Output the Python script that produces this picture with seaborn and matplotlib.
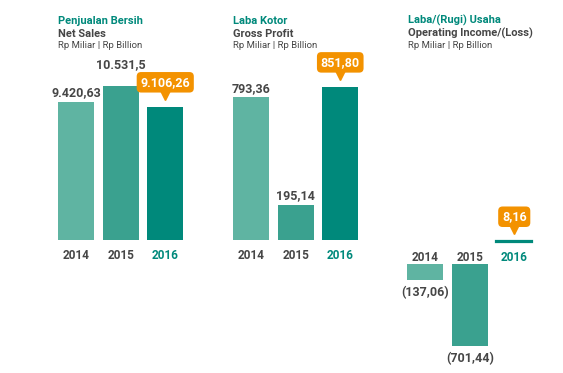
import matplotlib
matplotlib.use('Agg')
import matplotlib.pyplot as plt
import seaborn as sns
from matplotlib.transforms import offset_copy

# data
years = ['2014', '2015', '2016']
net_sales = [9420.63, 10531.5, 9106.26]
gross_profit = [793.36, 195.14, 851.80]
op_income = [-137.06, -701.44, 8.16]
net_sales_lbl = ['9.420,63', '10.531,5', '9.106,26']
gross_profit_lbl = ['793,36', '195,14', '851,80']
op_income_lbl = ['(137,06)', '(701,44)', '8,16']
titles_id = ['Penjualan Bersih', 'Laba Kotor', 'Laba/(Rugi) Usaha']
titles_en = ['Net Sales', 'Gross Profit', 'Operating Income/(Loss)']
unit = 'Rp Miliar | Rp Billion'

bar_colors = ['#5fb4a2', '#3aa18f', '#00897b']
teal = '#00897b'
dark = '#464646'
orange = '#f39200'

sns.set_theme(style='white')
plt.rcParams['font.family'] = ['Roboto', 'DejaVu Sans']

W, H = 563, 373
fig = plt.figure(figsize=(W / 100, H / 100), dpi=100)


def px_axes(left, top, width, height):
    return fig.add_axes([left / W, 1 - (top + height) / H, width / W, height / H])


def callout(ax, i, v, text):
    ax.annotate(text, xy=(i, v), xytext=(0, 17.5), textcoords='offset points',
                ha='center', va='center', fontsize=9, fontweight='bold', color='white',
                bbox=dict(boxstyle='round,pad=0.3,rounding_size=0.35', fc=orange, ec='none'))
    tr = offset_copy(ax.transData, fig=fig, x=0, y=8.5, units='points')
    ax.plot([i], [v], marker='v', ms=7, color=orange, transform=tr, clip_on=False)


def year_labels(ax):
    for i, y in enumerate(years):
        ax.annotate(y, xy=(i, 0), xytext=(0, -13.5), textcoords='offset points',
                    ha='center', va='baseline', fontsize=8.5, fontweight='bold',
                    color=teal if i == 2 else dark)


# label lift above bar top (points); middle one sits higher to clear the callout
lifts = [4, 13, 4]

panels = [
    (54, net_sales, net_sales_lbl, 12287),
    (229, gross_profit, gross_profit_lbl, 1000),
]
for k, (left, vals, lbls, ymax) in enumerate(panels):
    ax = px_axes(left, 60, 133.5, 180)
    sns.barplot(x=years, y=vals, hue=years, palette=bar_colors, legend=False,
                width=0.8, edgecolor=None, linewidth=0, saturation=1, ax=ax)
    ax.set_ylim(0, ymax)
    ax.set_xlim(-0.5, 2.5)
    ax.axis('off')
    for i, v in enumerate(vals):
        if i == 2:
            callout(ax, i, v, lbls[i])
        else:
            lift = lifts[i] if k == 0 else 4
            ax.annotate(lbls[i], xy=(i, v), xytext=(0, lift), textcoords='offset points',
                        ha='center', va='baseline', fontsize=9, fontweight='bold', color=dark)
    year_labels(ax)

# operating income panel: negative bars hang below the year labels
gap = 188
ax = px_axes(403, 200, 133.5, 170)
neg = [v if v < 0 else 0 for v in op_income]
pos = [v if v > 0 else 0 for v in op_income]
sns.barplot(x=years, y=neg, hue=years, palette=bar_colors, legend=False,
            width=0.8, linewidth=0, saturation=1, bottom=-gap, ax=ax)
sns.barplot(x=years, y=pos, hue=years, palette=bar_colors, legend=False,
            width=0.8, linewidth=0, saturation=1, ax=ax)
for p in ax.patches[3:]:
    if p.get_height() > 0:
        p.set_edgecolor(p.get_facecolor())
        p.set_linewidth(1.6)
ax.set_ylim(-1094, 359)
ax.set_xlim(-0.5, 2.5)
ax.axis('off')
for i, v in enumerate(op_income):
    if v > 0:
        callout(ax, i, v, op_income_lbl[i])
    else:
        ax.annotate(op_income_lbl[i], xy=(i, v - gap), xytext=(0, -4.5), textcoords='offset points',
                    ha='center', va='top', fontsize=9, fontweight='bold', color=dark)
year_labels(ax)

# headers
for left, t1, t2 in zip([58, 233, 408], titles_id, titles_en):
    fig.text(left / W, 1 - 23.5 / H, t1, color=teal, fontsize=8, fontweight='bold', va='baseline')
    fig.text(left / W, 1 - 37 / H, t2, color=dark, fontsize=8, fontweight='bold', va='baseline')
    fig.text(left / W, 1 - 48 / H, unit, color=dark, fontsize=6.8, va='baseline')

fig.savefig('out.png', dpi=100, facecolor='white')
